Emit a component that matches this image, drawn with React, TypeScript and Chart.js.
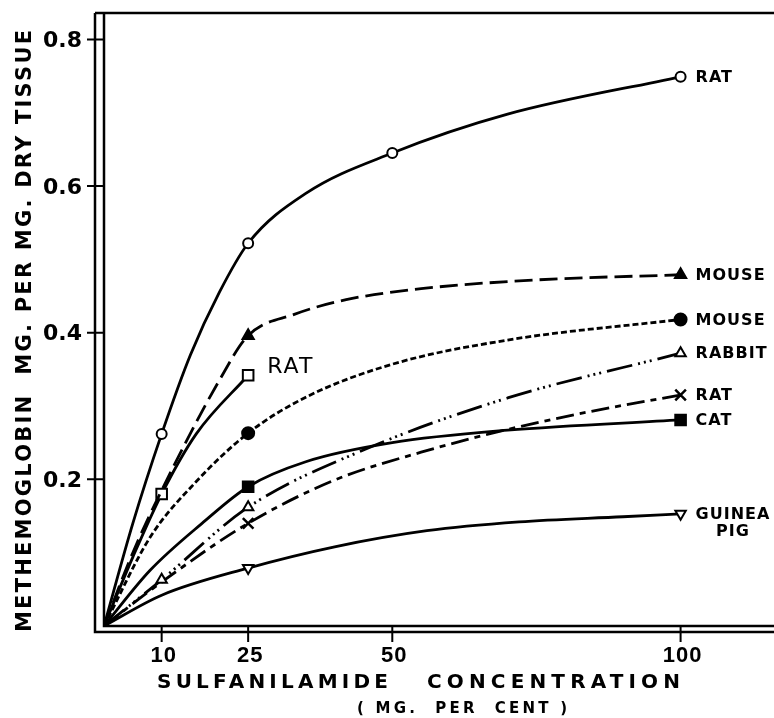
import { useEffect, useRef } from "react";
import { Chart, registerables } from "chart.js";

Chart.register(...registerables);

const ratCircleConc = [0, 5, 10, 15, 20, 25, 35, 50, 70, 100];
const ratCircle = [0, 0.14, 0.262, 0.37, 0.455, 0.522, 0.59, 0.645, 0.698, 0.749];
const ratCircleMarkers = [10, 25, 50, 100];

const mouseTriangleConc = [0, 5, 10, 20, 25, 33, 42, 55, 75, 100];
const mouseTriangle = [0, 0.1, 0.185, 0.335, 0.396, 0.425, 0.445, 0.46, 0.472, 0.479];
const mouseTriangleMarkers = [25, 100];

const ratSquareConc = [0, 5, 10, 16, 25];
const ratSquare = [0, 0.094, 0.18, 0.262, 0.342];
const ratSquareMarkers = [10, 25];

const mouseCircleConc = [0, 8, 16, 25, 35, 50, 70, 100];
const mouseCircle = [0, 0.121, 0.197, 0.263, 0.312, 0.357, 0.39, 0.418];
const mouseCircleMarkers = [25, 100];

const rabbitConc = [0, 10, 25, 45, 70, 100];
const rabbit = [0, 0.063, 0.162, 0.24, 0.311, 0.372];
const rabbitMarkers = [10, 25, 100];

const ratCrossConc = [0, 10, 25, 40, 55, 70, 84, 100];
const ratCross = [0, 0.06, 0.14, 0.199, 0.237, 0.268, 0.292, 0.315];
const ratCrossMarkers = [25, 100];

const catConc = [0, 8, 17, 25, 35, 50, 70, 100];
const cat = [0, 0.076, 0.14, 0.19, 0.224, 0.25, 0.267, 0.281];
const catMarkers = [25, 100];

const guineaPigConc = [0, 10, 25, 40, 56, 72, 90, 100];
const guineaPig = [0, 0.042, 0.079, 0.108, 0.13, 0.142, 0.149, 0.153];
const guineaPigMarkers = [25, 100];

const xTicks = [10, 25, 50, 100];
const yTicks = [0.2, 0.4, 0.6, 0.8];
const seriesLabels = ["RAT", "MOUSE", "RAT", "MOUSE", "RABBIT", "RAT", "CAT", "GUINEA\nPIG"];

const xTitleWords = ["SULFANILAMIDE", "CONCENTRATION"];
const xSubTitle = "( MG.  PER  CENT )";
const yTitle = "METHEMOGLOBIN  MG. PER MG. DRY TISSUE";

const X_MAX = 116.2;
const Y_MAX = 0.836;

function series(
  label: string,
  xs: number[],
  ys: number[],
  markers: number[],
  style: any,
  radius: number,
  dash: number[],
  extra: any = {}
) {
  return {
    label,
    data: xs.map((x, i) => ({ x, y: ys[i] })),
    borderColor: "#000",
    borderWidth: 2.8,
    borderDash: dash,
    pointStyle: style,
    pointRadius: xs.map((x) => (markers.includes(x) ? radius : 0)),
    pointBorderColor: "#000",
    pointBorderWidth: 2,
    pointBackgroundColor: "#000",
    cubicInterpolationMode: "monotone",
    fill: false,
    ...extra,
  };
}

function fitText(ctx: CanvasRenderingContext2D, text: string, x: number, y: number, width: number, font: string) {
  ctx.font = font;
  (ctx as any).letterSpacing = "0px";
  const w = ctx.measureText(text).width;
  const n = Array.from(text).length;
  const sp = n > 1 ? (width - w) / (n - 1) : 0;
  (ctx as any).letterSpacing = sp + "px";
  ctx.textAlign = "left";
  ctx.fillText(text, x, y);
  (ctx as any).letterSpacing = "0px";
}

const decorPlugin = {
  id: "decor",
  afterDatasetsDraw(chart: any) {
    const ctx: CanvasRenderingContext2D = chart.ctx;
    const { left, top, right, bottom } = chart.chartArea;
    const xs = chart.scales.x;
    const ys = chart.scales.y;
    ctx.save();
    ctx.strokeStyle = "#000";
    ctx.fillStyle = "#000";
    ctx.lineWidth = 2.5;
    // frame: double left and bottom lines, top line
    ctx.beginPath();
    ctx.moveTo(left - 9, top);
    ctx.lineTo(right, top);
    ctx.moveTo(left - 9, top);
    ctx.lineTo(left - 9, bottom + 6);
    ctx.lineTo(right, bottom + 6);
    ctx.moveTo(left, top);
    ctx.lineTo(left, bottom);
    ctx.lineTo(right, bottom);
    ctx.stroke();

    // ticks
    ctx.lineWidth = 2;
    ctx.beginPath();
    yTicks.forEach((v) => {
      const py = ys.getPixelForValue(v);
      ctx.moveTo(left - 17, py);
      ctx.lineTo(left, py);
    });
    xTicks.forEach((v) => {
      const px = xs.getPixelForValue(v);
      ctx.moveTo(px, bottom);
      ctx.lineTo(px, bottom + 16);
    });
    ctx.stroke();

    // tick labels
    ctx.textBaseline = "middle";
    ctx.font = 'bold 22px "DejaVu Sans"';
    ctx.textAlign = "right";
    yTicks.forEach((v) => {
      ctx.fillText(v.toFixed(1), left - 22, ys.getPixelForValue(v) + 2);
    });
    ctx.font = 'bold 22px "Liberation Sans"';
    ctx.textAlign = "center";
    (ctx as any).letterSpacing = "1px";
    xTicks.forEach((v) => {
      ctx.fillText(String(v), xs.getPixelForValue(v) + 2, bottom + 30);
    });
    (ctx as any).letterSpacing = "0px";

    // axis titles
    ctx.textBaseline = "middle";
    fitText(ctx, xTitleWords[0], 157, 683, 231, 'bold 20px "DejaVu Sans"');
    fitText(ctx, xTitleWords[1], 427, 683, 253, 'bold 20px "DejaVu Sans"');
    fitText(ctx, xSubTitle, 357, 709, 210, 'bold 15px "DejaVu Sans"');

    ctx.save();
    ctx.translate(26, 632);
    ctx.rotate(-Math.PI / 2);
    fitText(ctx, yTitle, 0, 0, 602, 'bold 21px "DejaVu Sans"');
    ctx.restore();

    // series labels
    chart.data.datasets.forEach((ds: any, i: number) => {
      const meta = chart.getDatasetMeta(i);
      const pt = meta.data[meta.data.length - 1];
      const text = seriesLabels[i];
      if (ds.innerLabel) {
        ctx.font = '22px "DejaVu Sans"';
        (ctx as any).letterSpacing = "2px";
        ctx.textAlign = "left";
        ctx.fillText(text, pt.x + 19, pt.y - 8);
        (ctx as any).letterSpacing = "0px";
        return;
      }
      ctx.font = 'bold 16px "DejaVu Sans"';
      (ctx as any).letterSpacing = "1px";
      const lines = text.split("\n");
      const first = lines[0];
      const w0 = ctx.measureText(first).width;
      ctx.textAlign = "left";
      ctx.fillText(first, pt.x + 15, pt.y + 1);
      for (let k = 1; k < lines.length; k++) {
        ctx.textAlign = "center";
        ctx.fillText(lines[k], pt.x + 15 + w0 / 2, pt.y + 1 + 17 * k);
      }
      (ctx as any).letterSpacing = "0px";
    });
    ctx.restore();
  },
};

export default function App() {
  const ref = useRef<HTMLCanvasElement | null>(null);
  useEffect(() => {
    if (!ref.current) return;
    const datasets: any[] = [
      series("Rat (open circle)", ratCircleConc, ratCircle, ratCircleMarkers, "circle", 5, [], {
        pointBackgroundColor: "#fff",
      }),
      series("Mouse (filled triangle)", mouseTriangleConc, mouseTriangle, mouseTriangleMarkers, "triangle", 6.5, [18, 7]),
      series("Rat (open square)", ratSquareConc, ratSquare, ratSquareMarkers, "rect", 7.5, [], {
        pointBackgroundColor: "#fff",
        innerLabel: true,
      }),
      series("Mouse (filled circle)", mouseCircleConc, mouseCircle, mouseCircleMarkers, "circle", 6, [6, 3]),
      series("Rabbit (open triangle)", rabbitConc, rabbit, rabbitMarkers, "triangle", 6, [26, 6, 2, 4, 2, 4, 2, 6], {
        pointBackgroundColor: "#fff",
      }),
      series("Rat (cross)", ratCrossConc, ratCross, ratCrossMarkers, "crossRot", 7.5, [18, 6, 6, 6], {
        pointBorderWidth: 2.5,
      }),
      series("Cat (filled square)", catConc, cat, catMarkers, "rect", 7.5, []),
      series("Guinea pig (down triangle)", guineaPigConc, guineaPig, guineaPigMarkers, "triangle", 6, [], {
        pointRotation: 180,
        pointBackgroundColor: "#fff",
      }),
    ];
    const chart = new Chart(ref.current, {
      type: "line",
      data: { datasets },
      options: {
        responsive: false,
        animation: false,
        devicePixelRatio: 1,
        layout: { autoPadding: false, padding: { left: 104, top: 13, right: 0, bottom: 92 } },
        scales: {
          x: { type: "linear", display: false, min: 0, max: X_MAX },
          y: { type: "linear", display: false, min: 0, max: Y_MAX },
        },
        plugins: { legend: { display: false }, tooltip: { enabled: false } },
      } as any,
      plugins: [decorPlugin],
    });
    return () => chart.destroy();
  }, []);
  return (
    <div style={{ position: "fixed", left: 0, top: 0, width: 774, height: 718, background: "#fff" }}>
      <canvas ref={ref} width={774} height={718} style={{ display: "block" }} />
    </div>
  );
}
